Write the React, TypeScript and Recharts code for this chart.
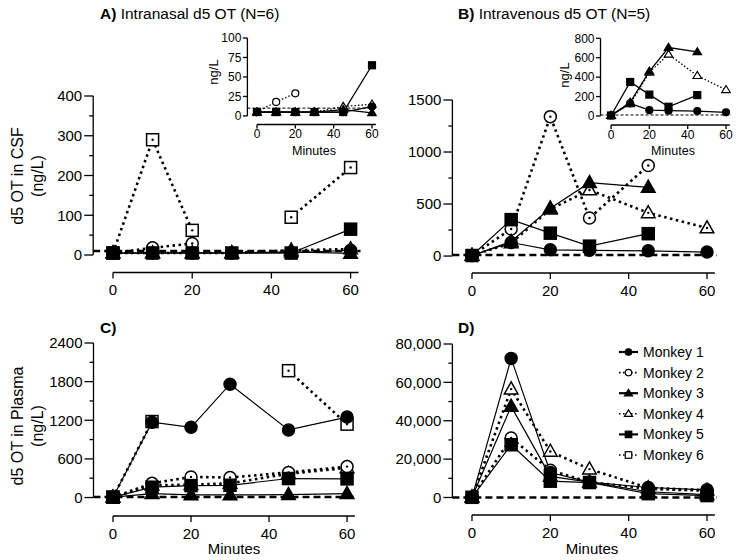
import React from "react";
import { LineChart, Line, XAxis, YAxis, ReferenceLine } from "recharts";

const W = 740;
const H = 560;

const MINUTES = [0, 10, 20, 30, 45, 60];
const X_TICKS = [0, 20, 40, 60];
const MONKEYS = ["Monkey 1", "Monkey 2", "Monkey 3", "Monkey 4", "Monkey 5", "Monkey 6"];

type Val = number | null;

// A) intranasal, CSF (ng/L)
const csfIn1: Val[] = [5, 5, 5, 5, 5, 12];
const csfIn2: Val[] = [5, 18, 29, null, null, null];
const csfIn3: Val[] = [5, 5, 5, 5, 8, 4];
const csfIn4: Val[] = [5, 5, 5, 5, 12, 15];
const csfIn5: Val[] = [5, 5, 5, 5, 5, 65];
const csfIn6: Val[] = [5, 290, 62, null, 95, 220];

// B) intravenous, CSF (ng/L)
const csfIv1: Val[] = [5, 130, 60, 55, 50, 38];
const csfIv2: Val[] = [5, 260, 1340, 365, 870, null];
const csfIv3: Val[] = [5, 140, 460, 705, 660, null];
const csfIv4: Val[] = [5, 125, 450, 635, 415, 270];
const csfIv5: Val[] = [5, 350, 220, 95, 215, null];

// C) intranasal, plasma (ng/L)
const plIn1: Val[] = [5, 1170, 1090, 1760, 1050, 1250];
const plIn2: Val[] = [5, 220, 320, 310, 390, 480];
const plIn3: Val[] = [5, 60, 40, 40, 45, 60];
const plIn4: Val[] = [5, 190, 200, 220, 370, 460];
const plIn5: Val[] = [5, 160, 185, 190, 295, 290];
const plIn6: Val[] = [5, 1180, null, null, 1970, 1140];

// D) intravenous, plasma (ng/L)
const plIv1: Val[] = [100, 72500, 13000, 8000, 5200, 4000];
const plIv2: Val[] = [100, 31000, 14200, 8000, 4500, 3500];
const plIv3: Val[] = [100, 47500, 11000, 8000, 3000, 1500];
const plIv4: Val[] = [100, 56500, 24000, 14800, 5000, 3800];
const plIv5: Val[] = [100, 27500, 8500, 7800, 2000, 1000];

const LOQ_CSF = 10;
const LOQ_PLASMA = 10;

const STYLE = [
  { shape: "circle", filled: true, dotted: false },
  { shape: "circle", filled: false, dotted: true },
  { shape: "triangle", filled: true, dotted: false },
  { shape: "triangle", filled: false, dotted: true },
  { shape: "square", filled: true, dotted: false },
  { shape: "square", filled: false, dotted: true },
];

// draw order: dotted first, solid on top
const ORDER = [5, 3, 1, 4, 2, 0];

function toRows(series: (Val[] | null)[]) {
  return MINUTES.map((t, i) => {
    const r: Record<string, Val> = { t };
    series.forEach((s, k) => {
      r["m" + k] = s ? s[i] : null;
    });
    return r;
  });
}

function Marker({ cx, cy, shape, filled, size, centerDot }: any) {
  if (cx == null || cy == null || Number.isNaN(cx) || Number.isNaN(cy)) return <g />;
  const fill = filled ? "#000" : "#fff";
  const sw = size > 8 ? 1.5 : 1.2;
  let body;
  if (shape === "circle") {
    body = <circle cx={cx} cy={cy} r={size / 2} fill={fill} stroke="#000" strokeWidth={sw} />;
  } else if (shape === "square") {
    body = <rect x={cx - size / 2} y={cy - size / 2} width={size} height={size} fill={fill} stroke="#000" strokeWidth={sw} />;
  } else {
    const h = size * 1.0;
    body = (
      <polygon
        points={`${cx},${cy - h * 0.6} ${cx - size / 2 - 0.8},${cy + h * 0.4} ${cx + size / 2 + 0.8},${cy + h * 0.4}`}
        fill={fill}
        stroke="#000"
        strokeWidth={sw}
        strokeLinejoin="miter"
      />
    );
  }
  return (
    <g>
      {body}
      {!filled && centerDot && <circle cx={cx} cy={cy} r={1.2} fill="#000" />}
    </g>
  );
}

interface PanelProps {
  series: (Val[] | null)[];
  box: { left: number; top: number; right: number; bottom: number };
  xDomain: [number, number];
  yDomain: [number, number];
  yTicks: number[];
  yMajor: number[];
  fmt?: (v: number) => string;
  loq: number;
  inset?: boolean;
}

function Panel({ series, box, xDomain, yDomain, yTicks, yMajor, fmt = (v) => String(v), loq, inset }: PanelProps) {
  const rows = toRows(series);
  const xh = inset ? 20 : 32;
  const yw = 40;
  const font = inset ? 12 : 15;
  const msize = inset ? 7 : 12;
  const majorLen = inset ? 4.5 : 9;
  const minorLen = 4;
  const gap = inset ? 6 : 11;
  const yTop = yMajor[yMajor.length - 1];

  const yTick = (p: any) => {
    const { x, y, payload } = p;
    const isMajor = yMajor.includes(payload.value);
    return (
      <g>
        <line x1={x - (isMajor ? majorLen : minorLen)} x2={x} y1={y} y2={y} stroke="#000" strokeWidth={1.3} />
        {isMajor && (
          <text x={x - gap} y={y} dy="0.35em" textAnchor="end" fontSize={font} fill="#000">
            {fmt(payload.value)}
          </text>
        )}
      </g>
    );
  };

  return (
    <div style={{ position: "absolute", left: 0, top: 0 }}>
      <LineChart
        width={W}
        height={H}
        data={rows}
        margin={{ top: box.top, left: box.left - yw, right: W - box.right, bottom: H - box.bottom - xh }}
      >
        <XAxis
          dataKey="t"
          type="number"
          domain={xDomain}
          allowDataOverflow
          ticks={X_TICKS}
          interval={0}
          axisLine={false}
          tickLine={{ stroke: "#000", strokeWidth: 1.3 }}
          tickSize={inset ? 4 : 6}
          tickMargin={inset ? 1 : 6}
          tick={{ fill: "#000", fontSize: font }}
          height={xh}
        />
        <YAxis
          type="number"
          domain={yDomain}
          allowDataOverflow
          ticks={yTicks}
          interval={0}
          axisLine={false}
          tickLine={false}
          tickSize={0}
          tickMargin={0}
          width={yw}
          tick={yTick}
        />
        <ReferenceLine
          segment={[{ x: xDomain[0], y: 0 }, { x: xDomain[0], y: yTop }]}
          stroke="#000"
          strokeWidth={1.3}
          ifOverflow="visible"
        />
        <ReferenceLine
          segment={[{ x: 0, y: yDomain[0] }, { x: 62, y: yDomain[0] }]}
          stroke="#000"
          strokeWidth={1.3}
          ifOverflow="visible"
        />
        <ReferenceLine
          y={loq}
          stroke="#000"
          strokeWidth={inset ? 1 : 2.5}
          strokeDasharray={inset ? "3 2" : "7 4"}
          ifOverflow="visible"
        />
        {ORDER.filter((k) => series[k]).map((k) => {
          const st = STYLE[k];
          return (
            <Line
              key={k}
              dataKey={"m" + k}
              name={MONKEYS[k]}
              type="linear"
              stroke="#000"
              strokeWidth={st.dotted ? (inset ? 1.3 : 2.6) : inset ? 1.3 : 1.2}
              strokeDasharray={st.dotted ? (inset ? "1.5 2" : "2.5 3.5") : undefined}
              connectNulls={false}
              isAnimationActive={false}
              activeDot={false}
              dot={(p: any) => (
                <Marker
                  key={`d${k}-${p.index}`}
                  cx={p.cx}
                  cy={p.value == null ? null : p.cy}
                  shape={st.shape}
                  filled={st.filled}
                  size={msize}
                  centerDot={!inset}
                />
              )}
            />
          );
        })}
      </LineChart>
    </div>
  );
}

function Legend() {
  const y0 = 352;
  const step = 20.6;
  return (
    <g>
      {MONKEYS.map((name, k) => {
        const st = STYLE[k];
        const y = y0 + k * step;
        return (
          <g key={name}>
            <line
              x1={619}
              x2={638}
              y1={y}
              y2={y}
              stroke="#000"
              strokeWidth={st.dotted ? 1.6 : 2.2}
              strokeDasharray={st.dotted ? "1.6 2.4" : undefined}
            />
            <Marker cx={628.5} cy={y} shape={st.shape} filled={st.filled} size={6.5} centerDot={false} />
            <text x={643} y={y} dy="0.35em" fontSize={14} fill="#000">
              {name}
            </text>
          </g>
        );
      })}
    </g>
  );
}

export default function App() {
  const range = (max: number, step: number) => {
    const out: number[] = [];
    for (let v = 0; v <= max; v += step) out.push(v);
    return out;
  };
  return (
    <div
      style={{
        position: "absolute",
        left: 0,
        top: 0,
        width: W,
        height: H,
        background: "#fff",
        fontFamily: "'Liberation Sans', Arial, Helvetica, sans-serif",
        overflow: "hidden",
      }}
    >
      {/* A) intranasal CSF */}
      <Panel
        series={[csfIn1, csfIn2, csfIn3, csfIn4, csfIn5, csfIn6]}
        box={{ left: 93.2, top: 96, right: 360.5, bottom: 272.5 }}
        xDomain={[-5, 62.5]}
        yDomain={[-44, 400]}
        yTicks={range(400, 50)}
        yMajor={[0, 100, 200, 300, 400]}
        loq={LOQ_CSF}
      />
      {/* B) intravenous CSF */}
      <Panel
        series={[csfIv1, csfIv2, csfIv3, csfIv4, csfIv5, null]}
        box={{ left: 452.4, top: 100, right: 716.8, bottom: 273 }}
        xDomain={[-5, 62.5]}
        yDomain={[-163, 1500]}
        yTicks={range(1500, 250)}
        yMajor={[0, 500, 1000, 1500]}
        loq={LOQ_CSF}
      />
      {/* C) intranasal plasma */}
      <Panel
        series={[plIn1, plIn2, plIn3, plIn4, plIn5, plIn6]}
        box={{ left: 93.5, top: 343, right: 356.8, bottom: 516 }}
        xDomain={[-5, 62.5]}
        yDomain={[-287, 2400]}
        yTicks={range(2400, 300)}
        yMajor={[0, 600, 1200, 1800, 2400]}
        loq={LOQ_PLASMA}
      />
      {/* D) intravenous plasma */}
      <Panel
        series={[plIv1, plIv2, plIv3, plIv4, plIv5, null]}
        box={{ left: 452.4, top: 344, right: 716.8, bottom: 515 }}
        xDomain={[-5, 62.5]}
        yDomain={[-9120, 80000]}
        yTicks={range(80000, 10000)}
        yMajor={[0, 20000, 40000, 60000, 80000]}
        fmt={(v) => v.toLocaleString("en-US")}
        loq={LOQ_PLASMA}
      />
      {/* inset A */}
      <Panel
        series={[csfIn1, csfIn2, csfIn3, csfIn4, csfIn5, null]}
        box={{ left: 247.4, top: 38, right: 376.8, bottom: 124.5 }}
        xDomain={[-5, 62.5]}
        yDomain={[-11, 100]}
        yTicks={[0, 25, 50, 75, 100]}
        yMajor={[0, 25, 50, 75, 100]}
        loq={LOQ_CSF}
        inset
      />
      {/* inset B */}
      <Panel
        series={[csfIv1, null, csfIv3, csfIv4, csfIv5, null]}
        box={{ left: 600.5, top: 38.3, right: 730.8, bottom: 125 }}
        xDomain={[-5.5, 62.5]}
        yDomain={[-93, 800]}
        yTicks={[0, 200, 400, 600, 800]}
        yMajor={[0, 200, 400, 600, 800]}
        loq={LOQ_CSF}
        inset
      />
      <svg width={W} height={H} style={{ position: "absolute", left: 0, top: 0, pointerEvents: "none" }}>
        <text x={100} y={19} fontSize={15.5} fill="#000">
          <tspan fontWeight={700}>A)</tspan>
          <tspan> Intranasal d5 OT (N=6)</tspan>
        </text>
        <text x={458} y={19} fontSize={15.5} fill="#000">
          <tspan fontWeight={700}>B)</tspan>
          <tspan> Intravenous d5 OT (N=5)</tspan>
        </text>
        <text x={100} y={333} fontSize={15.5} fontWeight={700} fill="#000">C)</text>
        <text x={458} y={333} fontSize={15.5} fontWeight={700} fill="#000">D)</text>

        <text transform="translate(17,176) rotate(-90)" textAnchor="middle" dominantBaseline="central" fontSize={16} fill="#000">
          d5 OT in CSF
        </text>
        <text transform="translate(37,176) rotate(-90)" textAnchor="middle" dominantBaseline="central" fontSize={16} fill="#000">
          (ng/L)
        </text>
        <text transform="translate(17,426) rotate(-90)" textAnchor="middle" dominantBaseline="central" fontSize={16} fill="#000">
          d5 OT in Plasma
        </text>
        <text transform="translate(37,426) rotate(-90)" textAnchor="middle" dominantBaseline="central" fontSize={16} fill="#000">
          (ng/L)
        </text>

        <text transform="translate(213,72) rotate(-90)" textAnchor="middle" dominantBaseline="central" fontSize={13} fill="#000">
          ng/L
        </text>
        <text transform="translate(564,75) rotate(-90)" textAnchor="middle" dominantBaseline="central" fontSize={13} fill="#000">
          ng/L
        </text>
        <text x={314} y={155} textAnchor="middle" fontSize={12.5} fill="#000">Minutes</text>
        <text x={673} y={155} textAnchor="middle" fontSize={12.5} fill="#000">Minutes</text>
        <text x={234} y={554} textAnchor="middle" fontSize={15} fill="#000">Minutes</text>
        <text x={592} y={554} textAnchor="middle" fontSize={15} fill="#000">Minutes</text>
        <Legend />
      </svg>
    </div>
  );
}
